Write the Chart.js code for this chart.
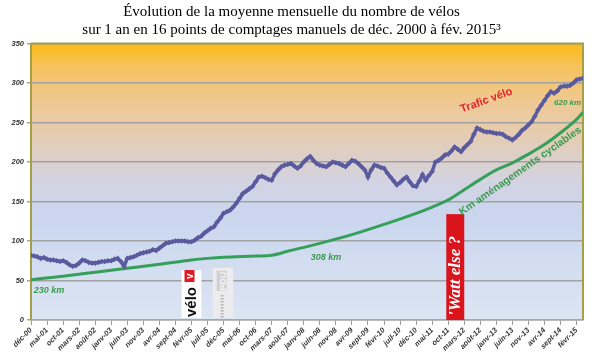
<!DOCTYPE html>
<html>
<head>
<meta charset="utf-8">
<script src="https://cdn.jsdelivr.net/npm/chart.js@4.4.1/dist/chart.umd.min.js"></script>
<style>
  html, body { margin: 0; padding: 0; background: #fff; }
  #wrap { width: 600px; height: 362px; }
</style>
</head>
<body>
<div id="wrap"><canvas id="myChart" width="600" height="362"></canvas></div>
<script>
// x tick labels, one every 5 months from déc-00
const tickLabels = [
  "déc-00", "mai-01", "oct-01", "mars-02", "août-02", "janv-03", "juin-03",
  "nov-03", "avr-04", "sept-04", "févr-05", "juil-05", "déc-05", "mai-06",
  "oct-06", "mars-07", "août-07", "janv-08", "juin-08", "nov-08", "avr-09",
  "sept-09", "févr-10", "juil-10", "déc-10", "mai-11", "oct-11", "mars-12",
  "août-12", "janv-13", "juin-13", "nov-13", "avr-14", "sept-14", "févr-15"
];

// monthly bike traffic, déc-00 .. avr-15 (one value per month)
const traficVelo = [
  82, 81, 80, 78, 79, 77, 76, 76, 75, 74, 75, 73,
  70, 68, 69, 72, 76, 75, 73, 72, 72, 73, 74, 74,
  75, 75, 77, 78, 74, 68, 78, 79, 80, 82, 84, 85,
  86, 87, 89, 88, 91, 94, 97, 98, 99, 100, 100, 100,
  100, 99, 99, 101, 104, 106, 110, 113, 116, 118, 124, 129,
  135, 137, 139, 143, 148, 154, 160, 163, 166, 169, 175, 181,
  182, 180, 178, 177, 185, 190, 194, 196, 197, 198, 195, 192,
  195, 200, 204, 207, 202, 198, 196, 195, 194, 197, 200, 199,
  198, 196, 194, 198, 202, 201, 198, 194, 190, 181, 190, 196,
  195, 193, 192, 186, 181, 176, 171, 174, 178, 181, 175, 170,
  169, 176, 184, 177, 183, 188, 200, 202, 205, 209, 210, 214,
  219, 216, 213, 218, 222, 226, 235, 243, 241, 239, 238, 238,
  237, 236, 236, 235, 232, 230, 228, 231, 235, 240, 243, 247,
  251, 258, 266, 272, 278, 284, 289, 287, 290, 295, 296, 296,
  297, 300, 304, 305, 306
];

// km of cycle lanes (scaled on the same axis), read at some months
const kmMonths = [0, 10, 20, 30, 40, 50, 55, 60, 70, 75, 80, 90, 100, 110,
  120, 125, 130, 135, 140, 145, 150, 155, 160, 165, 170, 172];
const kmValues = [51, 55.5, 60.5, 65.5, 70.5, 76, 78, 79.5, 81, 82, 87, 97, 108, 121,
  135, 143, 152, 165, 178, 190, 199, 210, 222, 237, 254, 263];

const lastMonth = traficVelo.length - 1;

const decorations = {
  id: "decorations",
  beforeDraw(chart) {
    const { ctx, chartArea: a } = chart;
    const g = ctx.createLinearGradient(0, a.top, 0, a.bottom);
    g.addColorStop(0, "#fbbc14");
    g.addColorStop(0.08, "#f6c25a");
    g.addColorStop(0.2, "#efc88f");
    g.addColorStop(0.35, "#e3cdb7");
    g.addColorStop(0.5, "#d3d3e2");
    g.addColorStop(0.62, "#c9d6ee");
    g.addColorStop(1, "#dce5f3");
    ctx.save();
    ctx.fillStyle = g;
    ctx.fillRect(a.left, a.top, a.right - a.left, a.bottom - a.top);
    ctx.restore();
  },
  beforeDatasetsDraw(chart) {
    const { ctx, chartArea: a, scales } = chart;
    const x = scales.x, y = scales.y;
    ctx.save();

    // vélo'v logo
    let l = x.getPixelForValue(46.9), r = x.getPixelForValue(53.1);
    let t = y.getPixelForValue(63), b = y.getPixelForValue(2.5);
    ctx.fillStyle = "#ffffff";
    ctx.fillRect(l, t, r - l, b - t);
    ctx.save();
    ctx.translate(l + 14, b - 1);
    ctx.rotate(-Math.PI / 2);
    ctx.fillStyle = "#111";
    ctx.font = "bold 15px 'Liberation Sans', Arial, sans-serif";
    ctx.textBaseline = "alphabetic";
    ctx.fillText("vélo", 0, 0);
    ctx.fillStyle = "#e01b24";
    ctx.fillRect(35, -11, 12, 10);
    ctx.fillStyle = "#fff";
    ctx.font = "bold 10px 'Liberation Sans', Arial, sans-serif";
    ctx.fillText("v", 38, -3);
    ctx.restore();

    // PDU logo
    l = x.getPixelForValue(56.6); r = x.getPixelForValue(63);
    t = y.getPixelForValue(66); b = y.getPixelForValue(2.5);
    ctx.fillStyle = "#ececee";
    ctx.fillRect(l, t, r - l, b - t);
    ctx.fillStyle = "#d0d0d4";
    ctx.fillRect(l + 4, t + 3, 10, 20);
    ctx.save();
    ctx.translate(l + 13, t + 23);
    ctx.rotate(-Math.PI / 2);
    ctx.fillStyle = "#f4f4f4";
    ctx.font = "bold 9px 'Liberation Sans', Arial, sans-serif";
    ctx.fillText("PDU", 0, 0);
    ctx.restore();
    ctx.strokeStyle = "#9a9aa0";
    ctx.lineWidth = 1;
    for (let i = 0; i < 8; i++) {
      ctx.beginPath();
      ctx.moveTo(l + 8, t + 28 + i * 3);
      ctx.lineTo(l + 11, t + 28 + i * 3);
      ctx.stroke();
    }

    // Watt else ? banner
    l = x.getPixelForValue(129.4); r = x.getPixelForValue(135);
    t = y.getPixelForValue(134); b = y.getPixelForValue(0);
    ctx.fillStyle = "#d9141d";
    ctx.fillRect(l, t, r - l, b - t);
    ctx.save();
    ctx.translate(l + 14, b - 4);
    ctx.rotate(-Math.PI / 2);
    ctx.fillStyle = "#fff";
    ctx.font = "italic bold 17px 'Liberation Serif', 'Times New Roman', serif";
    ctx.fillText("'Watt else ?", 0, 0);
    ctx.restore();

    // olive frame top and right
    ctx.strokeStyle = "#a5a044";
    ctx.lineWidth = 2;
    ctx.beginPath();
    ctx.moveTo(a.left, a.top);
    ctx.lineTo(a.right, a.top);
    ctx.lineTo(a.right, a.bottom);
    ctx.stroke();
    ctx.restore();
  },
  afterDatasetsDraw(chart) {
    const { ctx, scales } = chart;
    const x = scales.x, y = scales.y;
    const label = (txt, m, v, angle, color, font) => {
      ctx.save();
      ctx.translate(x.getPixelForValue(m), y.getPixelForValue(v));
      ctx.rotate(angle * Math.PI / 180);
      ctx.fillStyle = color;
      ctx.font = font;
      ctx.textAlign = "center";
      ctx.textBaseline = "middle";
      ctx.fillText(txt, 0, 0);
      ctx.restore();
    };
    const green = "#3a9a4e";
    label("Trafic vélo", 141.9, 278, -20, "#e3232b", "bold 11px 'Liberation Sans', Arial, sans-serif");
    label("620 km", 167.2, 275, 0, green, "italic bold 8px 'Liberation Sans', Arial, sans-serif");
    label("308 km", 91.9, 78.5, 0, green, "italic bold 9px 'Liberation Sans', Arial, sans-serif");
    label("230 km", 5.6, 36.7, 0, green, "italic bold 9px 'Liberation Sans', Arial, sans-serif");
    label("Km aménagements cyclables", 152.5, 188.6, -35, green, "bold 10.5px 'Liberation Sans', Arial, sans-serif");
  }
};

const ctx = document.getElementById("myChart");
const tickFont = { family: "'Liberation Sans', Arial, sans-serif", size: 7.5, style: "italic", weight: "bold" };

new Chart(ctx, {
  type: "line",
  data: {
    datasets: [
      {
        label: "Trafic vélo",
        data: traficVelo.map((v, i) => ({ x: i, y: v })),
        borderColor: "#5a5a9f",
        backgroundColor: "#5a5a9f",
        borderWidth: 3.5,
        pointRadius: 2.8,
        pointStyle: "rectRot",
        pointBorderWidth: 0,
        tension: 0,
      },
      {
        label: "Km aménagements cyclables",
        data: kmMonths.map((m, i) => ({ x: m, y: kmValues[i] })),
        borderColor: "#36a05a",
        borderWidth: 3,
        pointRadius: 0,
        cubicInterpolationMode: "monotone",
      },
    ],
  },
  options: {
    responsive: false,
    animation: false,
    devicePixelRatio: 1,
    layout: { padding: { left: 0, right: 17, top: 0, bottom: 0 } },
    scales: {
      x: {
        type: "linear",
        min: 0,
        max: lastMonth,
        afterFit: (s) => { s.height = 42; },
        ticks: {
          stepSize: 5,
          includeBounds: false,
          autoSkip: false,
          maxRotation: 45,
          minRotation: 45,
          padding: 1,
          font: tickFont,
          color: "#333",
          callback: (v) => tickLabels[v / 5] ?? "",
        },
        grid: { drawOnChartArea: false, drawTicks: true, tickLength: 5, color: "#9a9a9a" },
        border: { color: "#a8a8a8", width: 1.5 },
      },
      y: {
        min: 0,
        max: 350,
        afterFit: (s) => { s.width = 31; },
        ticks: {
          stepSize: 50,
          padding: 3,
          font: tickFont,
          color: "#333",
        },
        grid: { color: "#a2a2a2", lineWidth: 1.5, tickLength: 4 },
        border: { color: "#a5a044", width: 2 },
      },
    },
    plugins: {
      legend: { display: false },
      tooltip: { enabled: false },
      title: {
        display: true,
        text: [
          "Évolution de la moyenne mensuelle du nombre de vélos",
          "sur 1 an en 16 points de comptages manuels de déc. 2000 à fév. 2015³",
        ],
        color: "#000",
        font: { family: "'Liberation Serif', 'Times New Roman', serif", size: 15, weight: "normal", lineHeight: 1.2 },
        padding: { top: 3, bottom: 4.5 },
      },
    },
  },
  plugins: [decorations],
});
</script>
</body>
</html>
